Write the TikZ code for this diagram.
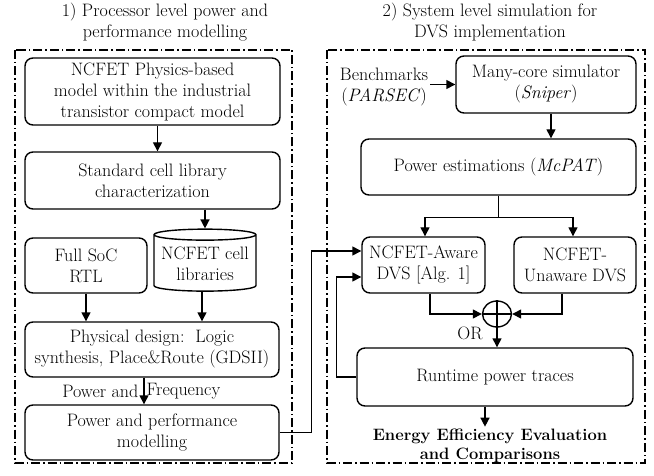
\documentclass[tikz,border=0pt]{standalone}
\usepackage{fontspec}
\usepackage{tikz}
\usetikzlibrary{shapes.geometric, arrows.meta, positioning}

\begin{document}
\begin{tikzpicture}[
  x=1pt, y=-1pt,
  font=\fontsize{18}{21}\selectfont,
  block/.style   = {rectangle, rounded corners=8pt, draw=black, line width=1.4pt,
                    align=center, inner sep=2pt},
  dbase/.style   = {cylinder, shape border rotate=90, aspect=0.12, draw=black,
                    line width=1.4pt, align=center, inner sep=2pt},
  frame/.style   = {line width=1.4pt, dash pattern=on 9pt off 3pt on 1.5pt off 3pt},
  arr/.style     = {-{Triangle[length=9pt, width=9pt]}, line width=1.4pt},
  lbl/.style     = {align=center, inner sep=2pt}
]
\useasboundingbox (0,0) rectangle (654,476);

% ---------- titles ----------
\node[lbl] (t1) at (165,22) {1) Processor level power and\\performance modelling};
\node[lbl] (t2) at (490,22) {2) System level simulation for\\DVS implementation};

\draw[frame] (15,50) rectangle (292,463);
\draw[frame] (327,50) rectangle (645,463);

% ---------- processor level ----------
\node[block, minimum width=255pt, minimum height=67pt] (phys) at (152.5,91.5)
  {NCFET Physics-based\\model within the industrial\\transistor compact model};
\node[block, minimum width=255pt, minimum height=57pt] (stdcell) at (152.5,180.5)
  {Standard cell library\\characterization};
\node[block, minimum width=122pt, minimum height=55pt] (soc) at (86,265.5)
  {Full SoC\\RTL};
\node[dbase, minimum width=102pt, minimum height=62pt] (lib) at (205,264)
  {NCFET cell\\libraries};
\node[block, minimum width=254pt, minimum height=55pt] (phd) at (152,349.5)
  {Physical design:~~Logic\\synthesis, Place\&Route (GDSII)};
\node[block, minimum width=254pt, minimum height=55pt] (pwrperf) at (152,432.5)
  {Power and performance\\modelling};

\draw[arr] ([xshift=5pt]phys.south) -- ([xshift=5pt]stdcell.north);
\draw[arr] (stdcell.south -| lib.north) -- (lib.north);
\draw[arr] (soc.south) -- (soc.south |- phd.north);
\draw[arr] ([xshift=-3pt]lib.south) -- ([xshift=-3pt]lib.south |- phd.north);
\draw[arr] ([xshift=-8pt]phd.south) -- ([xshift=-8pt]pwrperf.north)
  node[midway, left=5pt, inner sep=0pt] {Power and}
  node[midway, right=2pt, inner sep=0pt] {Frequency};

% ---------- system level ----------
\node[lbl] (bench) at (384,87) {Benchmarks\\(\textit{PARSEC})};
\node[block, minimum width=180pt, minimum height=57pt] (sniper) at (546,84.5)
  {Many-core simulator\\(\textit{Sniper})};
\node[block, minimum width=275pt, minimum height=56pt] (mcpat) at (498.5,167)
  {Power estimations (\textit{McPAT})};
\node[block, minimum width=123pt, minimum height=56pt] (aware) at (423.5,265)
  {NCFET-Aware\\DVS [Alg. 1]};
\node[block, minimum width=122pt, minimum height=56pt] (unaware) at (575,265)
  {NCFET-\\Unaware DVS};
\node[ellipse, draw=black, line width=1.4pt, minimum width=29pt,
      minimum height=26pt, inner sep=0pt] (orop) at (497,314) {};
\node[lbl] (ortext) at (470,333) {OR};
\node[block, minimum width=276pt, minimum height=58pt] (runtime) at (495,377)
  {Runtime power traces};
\node[lbl, font=\fontsize{16.5}{19.5}\selectfont\bfseries] (energy) at (490,446)
  {Energy Efficiency Evaluation\\and Comparisons};

\draw[line width=1.4pt] (orop.north) -- (orop.south);
\draw[line width=1.4pt] (orop.west) -- (orop.east);

\draw[arr] (bench.east |- sniper.west) -- (sniper.west);
\draw[arr] ([xshift=5pt]sniper.south) -- ([xshift=5pt]sniper.south |- mcpat.north);
\draw[line width=1.4pt] (mcpat.south) -- ++(0,22) coordinate (split);
\draw[arr] (split) -| ([xshift=1.5pt]aware.north);
\draw[arr] (split) -| ([xshift=-2pt]unaware.north);
\draw[arr] ([xshift=6.5pt]aware.south) |- (orop.west);
\draw[arr] ([xshift=-13pt]unaware.south) |- (orop.east);
\draw[arr] (orop.south) -- (orop.south |- runtime.north);
\draw[arr] ([xshift=-10pt]runtime.south) -- ([xshift=-10pt]runtime.south |- energy.north);

% ---------- links between the two levels ----------
\draw[arr] (pwrperf.east) -- ++(32,0) |- ([yshift=14pt]aware.west);
\draw[arr] (runtime.west) -- ++(-20,0) |- ([yshift=-12pt]aware.west);

\end{tikzpicture}
\end{document}
